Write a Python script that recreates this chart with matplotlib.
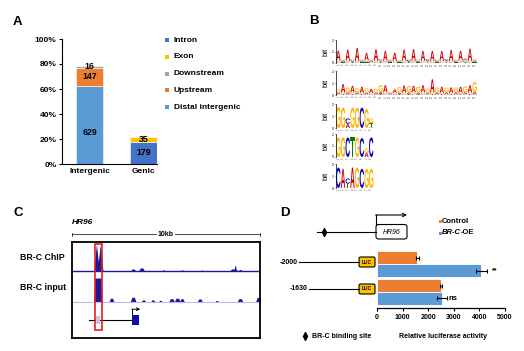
import numpy as np
import matplotlib
matplotlib.use('Agg')
import matplotlib.pyplot as plt
from matplotlib.patches import Rectangle, FancyBboxPatch, PathPatch
from matplotlib.textpath import TextPath
from matplotlib.font_manager import FontProperties
import matplotlib.transforms as mtransforms

plt.rcParams['font.family'] = ['Liberation Sans', 'DejaVu Sans']

# ---------------- data ----------------
# Panel A
a_categories = ['Intergenic', 'Genic']
intergenic_labels = ['Distal intergenic', 'Upstream', 'Downstream']
intergenic_counts = [629, 147, 16]
genic_labels = ['Intron', 'Exon']
genic_counts = [179, 35]
a_yticks = [0, 20, 40, 60, 80, 100]
a_legend_order = ['Intron', 'Exon', 'Downstream', 'Upstream', 'Distal intergenic']

# Panel B: sequence logos (bits per letter per position)
row1_A = [0.85, 0.10, 0.95, 0.08, 1.15, 0.10, 0.65, 0.12, 1.00, 0.08, 0.85, 0.10, 0.70, 0.06, 0.95,
          0.10, 1.00, 0.08, 0.85, 0.10, 0.85, 0.08, 0.85, 0.10, 0.95, 0.08, 0.85, 0.12, 1.05, 0.10]
row1_G = [0.12, 0.10, 0.10, 0.12, 0.08, 0.10, 0.12, 0.14, 0.10, 0.08, 0.10, 0.12, 0.10, 0.10, 0.12,
          0.10, 0.10, 0.12, 0.10, 0.08, 0.10, 0.12, 0.10, 0.08, 0.10, 0.10, 0.12, 0.10, 0.10, 0.12]
row1_C = [0.05, 0.08, 0.06, 0.10, 0.05, 0.08, 0.06, 0.06, 0.05, 0.10, 0.06, 0.08, 0.05, 0.06, 0.05,
          0.10, 0.06, 0.08, 0.06, 0.10, 0.05, 0.08, 0.06, 0.10, 0.05, 0.08, 0.06, 0.10, 0.05, 0.08]
row1_T = [0.04, 0.05, 0.04, 0.06, 0.04, 0.05, 0.05, 0.04, 0.04, 0.06, 0.04, 0.05, 0.04, 0.05, 0.04,
          0.06, 0.04, 0.05, 0.04, 0.06, 0.04, 0.05, 0.04, 0.06, 0.04, 0.05, 0.04, 0.06, 0.04, 0.05]

row2_A = [0.10, 0.70, 0.15, 0.55, 0.15, 0.50, 0.12, 0.35, 0.12, 0.20, 0.60, 0.08, 0.30, 0.15, 0.60,
          0.15, 0.55, 0.15, 0.60, 0.10, 1.10, 0.15, 0.50, 0.15, 0.45, 0.15, 0.50, 0.15, 0.60, 0.20]
row2_G = [0.30, 0.15, 0.40, 0.15, 0.35, 0.12, 0.35, 0.10, 0.30, 0.55, 0.15, 0.10, 0.10, 0.45, 0.12,
          0.55, 0.15, 0.50, 0.15, 0.35, 0.15, 0.40, 0.12, 0.40, 0.12, 0.40, 0.12, 0.50, 0.15, 0.80]
row2_C = [0.04, 0.03, 0.04, 0.03, 0.04, 0.03, 0.05, 0.04, 0.04, 0.03, 0.04, 0.05, 0.04, 0.03, 0.04,
          0.03, 0.04, 0.03, 0.04, 0.05, 0.03, 0.04, 0.03, 0.04, 0.03, 0.04, 0.03, 0.04, 0.03, 0.04]
row2_T = [0.03, 0.03, 0.03, 0.03, 0.03, 0.03, 0.03, 0.03, 0.03, 0.03, 0.03, 0.03, 0.03, 0.03, 0.03,
          0.03, 0.03, 0.03, 0.03, 0.03, 0.03, 0.03, 0.03, 0.03, 0.03, 0.03, 0.03, 0.03, 0.03, 0.03]

row3_A = [0.00, 0.00, 0.35, 0.00, 0.00, 0.00, 0.00, 0.05]
row3_C = [0.00, 0.00, 0.45, 0.00, 0.00, 1.70, 0.00, 0.00]
row3_G = [1.75, 1.70, 0.00, 1.70, 1.70, 0.00, 1.60, 0.40]
row3_T = [0.00, 0.00, 0.00, 0.00, 0.00, 0.00, 0.00, 0.35]

row4_A = [0.00, 0.00, 0.00, 0.00, 0.00, 0.00, 0.35, 0.00]
row4_C = [0.00, 0.00, 1.70, 0.00, 0.00, 1.65, 0.00, 1.70]
row4_G = [1.70, 1.70, 0.00, 0.00, 1.70, 0.00, 0.40, 0.00]
row4_T = [0.00, 0.00, 0.00, 1.70, 0.00, 0.00, 0.00, 0.00]

row5_A = [0.00, 1.60, 0.00, 1.70, 0.00, 0.00, 0.00, 0.00]
row5_C = [1.70, 0.00, 0.45, 0.00, 0.00, 1.60, 0.00, 0.00]
row5_G = [0.00, 0.00, 0.00, 0.00, 1.70, 0.00, 1.60, 1.60]
row5_T = [0.00, 0.00, 0.35, 0.00, 0.00, 0.00, 0.00, 0.00]

# Panel C: coverage peaks (position kb, relative height, half-width kb, flat-top fraction)
chip_pos = [1.30, 1.50, 1.40, 3.25, 3.70, 4.85, 5.85, 6.90, 8.60, 8.68, 8.95]
chip_height = [1.00, 0.97, 0.40, 0.08, 0.12, 0.04, 0.04, 0.03, 0.08, 0.20, 0.05]
chip_width = [0.15, 0.15, 0.15, 0.14, 0.16, 0.10, 0.10, 0.10, 0.22, 0.06, 0.12]
chip_flat = [0.05, 0.05, 0.40, 0.40, 0.40, 0.40, 0.40, 0.40, 0.50, 0.40, 0.40]
input_pos = [1.38, 2.10, 3.25, 3.80, 4.30, 4.70, 5.30, 5.60, 5.85, 6.80, 7.70, 8.94, 9.90]
input_height = [1.00, 0.16, 0.20, 0.09, 0.09, 0.07, 0.14, 0.16, 0.14, 0.13, 0.06, 0.14, 0.19]
input_width = [0.22, 0.14, 0.16, 0.12, 0.12, 0.10, 0.16, 0.16, 0.13, 0.14, 0.12, 0.16, 0.14]
input_flat = [0.75, 0.40, 0.40, 0.40, 0.40, 0.40, 0.40, 0.40, 0.40, 0.40, 0.40, 0.40, 0.40]
gene_span = [0.90, 3.20]
utr_box = [1.25, 1.50]
exon_box = [3.20, 3.55]
highlight_region = [1.22, 1.60]

# Panel D
d_constructs = ['-2000', '-1630']
d_control = [1570, 2500]
d_control_err = [60, 30]
d_oe = [4080, 2540]
d_oe_err = [220, 180]
d_sig = ['**', 'ns']
d_xticks = [0, 1000, 2000, 3000, 4000, 5000]

# ---------------- figure ----------------
W, H = 524, 351
fig = plt.figure(figsize=(W / 100, H / 100), dpi=100)


def px_axes(l, t, r, b):
    return fig.add_axes([l / W, 1 - b / H, (r - l) / W, (b - t) / H])


BOLD = dict(fontweight='bold')
colors_a = {'Intron': '#4472C4', 'Exon': '#FFC000', 'Downstream': '#A5A5A5',
            'Upstream': '#ED7D31', 'Distal intergenic': '#5B9BD5'}

# ---------- Panel A ----------
axA = px_axes(62, 39, 157, 164)
total = sum(intergenic_counts) + sum(genic_counts)
for ci, (labels, counts) in enumerate([(intergenic_labels, intergenic_counts),
                                        (genic_labels, genic_counts)]):
    bottom = 0.0
    for lab, c in zip(labels, counts):
        pct = c / total * 100
        axA.bar(ci, pct, bottom=bottom, width=0.5, color=colors_a[lab],
                edgecolor='white', linewidth=0.4)
        yl = bottom + pct * (0.4 if pct > 40 else 0.5)
        axA.text(ci, yl, str(c), ha='center', va='center', fontsize=6.3, **BOLD)
        bottom += pct
axA.set_xlim(-0.51, 1.25)
axA.set_ylim(0, 100)
axA.set_yticks(a_yticks)
axA.set_yticklabels([f'{v}%' for v in a_yticks], fontsize=6, fontweight='bold')
axA.set_xticks([0, 1])
axA.set_xticklabels(a_categories, fontsize=6, fontweight='bold')
axA.tick_params(axis='x', length=0, pad=3)
axA.tick_params(axis='y', length=2.5, width=0.8, pad=1.5)
for s in ['top', 'right']:
    axA.spines[s].set_visible(False)
for s in ['left', 'bottom']:
    axA.spines[s].set_linewidth(0.8)

# ---------- Panel B (logos) ----------
logo_colors = {'A': '#CC0000', 'C': '#0000CC', 'G': '#FFB300', 'T': '#008000'}
fp_logo = FontProperties(family='Liberation Sans', weight='bold')


def draw_letter(ax, ch, x, y, w, h, color):
    tp = TextPath((0, 0), ch, size=1, prop=fp_logo)
    bb = tp.get_extents()
    t = (mtransforms.Affine2D().translate(-bb.x0, -bb.y0)
         .scale(w / bb.width, h / bb.height).translate(x, y))
    ax.add_patch(PathPatch(t.transform_path(tp), fc=color, ec='none', lw=0))


def draw_logo(ax, A, C, G, T):
    n = len(A)
    for i in range(n):
        stack = sorted([('A', A[i]), ('C', C[i]), ('G', G[i]), ('T', T[i])], key=lambda p: p[1])
        y = 0.0
        for ch, h in stack:
            if h > 0:
                draw_letter(ax, ch, i + 0.53, y, 0.94, h, logo_colors[ch])
                y += h
    ax.set_xlim(0.5, n + 0.5)
    ax.set_ylim(0, 2)
    ax.set_yticks([0, 1, 2])
    ax.set_yticklabels(['0', '1', '2'], fontsize=2.5)
    ax.tick_params(axis='y', length=1, width=0.4, pad=0.5)
    ax.set_xticks(range(1, n + 1))
    ax.set_xticklabels([str(k) for k in range(1, n + 1)], fontsize=1.8, rotation=90, color='#555555')
    ax.tick_params(axis='x', length=0, pad=0.3)
    for s in ['top', 'right', 'bottom']:
        ax.spines[s].set_visible(False)
    ax.spines['left'].set_linewidth(0.5)
    ax.set_ylabel('bit', fontsize=5.5, labelpad=1.5)


logo_rows = [
    ((row1_A, row1_C, row1_G, row1_T), 40, 63),
    ((row2_A, row2_C, row2_G, row2_T), 71, 95),
    ((row3_A, row3_C, row3_G, row3_T), 104, 128),
    ((row4_A, row4_C, row4_G, row4_T), 134, 157),
    ((row5_A, row5_C, row5_G, row5_T), 164, 188),
]
pos_w = 4.7
for (vals, top, bot) in logo_rows:
    n = len(vals[0])
    ax = px_axes(336, top, 336 + n * pos_w, bot)
    draw_logo(ax, *vals)

# ---------- Panel C ----------
axC = px_axes(72, 242, 260, 338)
axC.set_xlim(0, 10)
axC.set_ylim(0, 1)
axC.set_xticks([])
axC.set_yticks([])
for s in axC.spines.values():
    s.set_linewidth(1.3)
xs = np.linspace(0, 10, 4001)


def profile(pos, hts, wds, flats):
    prof = np.zeros_like(xs)
    for c, h, w, f in zip(pos, hts, wds, flats):
        prof = np.maximum(prof, h * np.clip((w - np.abs(xs - c)) / (w * (1 - f)), 0, 1))
    return prof


track_col = '#1a1a9a'
chip_base, chip_scale = 0.698, 0.27
inp_base, inp_scale = 0.375, 0.25
axC.fill_between(xs, chip_base,
                 chip_base + chip_scale * profile(chip_pos, chip_height, chip_width, chip_flat),
                 color=track_col, lw=0)
axC.plot([0, 10], [chip_base, chip_base], color=track_col, lw=1.0)
axC.fill_between(xs, inp_base,
                 inp_base + inp_scale * profile(input_pos, input_height, input_width, input_flat),
                 color=track_col, lw=0)
axC.plot([0, 10], [inp_base, inp_base], color='#b8bce0', lw=0.8)
gene_y = 0.1875
axC.plot(gene_span, [gene_y, gene_y], color='black', lw=0.8)
axC.add_patch(Rectangle((utr_box[0], gene_y - 0.04), utr_box[1] - utr_box[0], 0.08,
                        fc='#c8c8e6', ec='none', zorder=3))
axC.add_patch(Rectangle((exon_box[0], gene_y - 0.05), exon_box[1] - exon_box[0], 0.1,
                        fc='#1010a0', ec='none', zorder=3))
axC.plot([exon_box[0], exon_box[0]], [gene_y + 0.05, 0.30], color='black', lw=0.7)
axC.annotate('', xy=(exon_box[1] + 0.08, 0.30), xytext=(exon_box[0] - 0.01, 0.30),
             arrowprops=dict(arrowstyle='->', lw=0.7, color='black', mutation_scale=5,
                             shrinkA=0, shrinkB=0))
axC.add_patch(Rectangle((highlight_region[0], 0.083), highlight_region[1] - highlight_region[0],
                        0.896, fill=False, ec='#e02020', lw=1.2, zorder=5))

# ---------- Panel D ----------
axD = px_axes(377, 249, 505, 308)
ypos = np.arange(len(d_constructs))
bh = 0.46
axD.barh(ypos - bh / 2, d_control, height=bh, color='#ED7D31', edgecolor='white', linewidth=0.6,
         xerr=d_control_err, error_kw=dict(ecolor='black', elinewidth=0.8, capsize=1.5, capthick=0.8))
axD.barh(ypos + bh / 2, d_oe, height=bh, color='#5B9BD5', edgecolor='white', linewidth=0.6,
         xerr=d_oe_err, error_kw=dict(ecolor='black', elinewidth=0.8, capsize=1.5, capthick=0.8))
for i, s in enumerate(d_sig):
    off = 180 if s == '**' else 60
    axD.text(d_oe[i] + d_oe_err[i] + off, ypos[i] + bh / 2, s, fontsize=5.5 if s == 'ns' else 5,
             va='center', ha='left', **BOLD)
axD.set_xlim(0, 5000)
axD.set_ylim(1.57, -0.54)
axD.set_yticks([])
axD.set_xticks(d_xticks)
axD.set_xticklabels([str(v) for v in d_xticks], fontsize=5, fontweight='bold')
axD.tick_params(axis='x', length=2.5, width=0.8, pad=1.5)
for s in ['top', 'right', 'left']:
    axD.spines[s].set_visible(False)
axD.spines['bottom'].set_linewidth(0.9)

# ---------- overlay (labels & diagrams) ----------
ov = fig.add_axes([0, 0, 1, 1], facecolor='none')
ov.set_xlim(0, W)
ov.set_ylim(H, 0)
ov.axis('off')

for lab, x, y in [('A', 13, 22), ('B', 309, 21), ('C', 13, 213), ('D', 280, 213)]:
    ov.text(x, y, lab, fontsize=9.5, ha='left', va='center', **BOLD)

# Panel A legend
for k, lab in enumerate(a_legend_order):
    y = 40 + k * 16.8
    ov.add_patch(Rectangle((165, y - 2), 4, 4, fc=colors_a[lab], ec='none'))
    ov.text(174, y, lab, fontsize=6, va='center', ha='left', **BOLD)

# Panel C labels
ov.text(72, 223, 'HR96', fontsize=6, style='italic', va='center', ha='left', **BOLD)
ov.plot([72, 260], [234, 234], color='black', lw=0.5)
ov.plot([72, 72], [232.5, 235.5], color='black', lw=0.5)
ov.plot([260, 260], [232.5, 235.5], color='black', lw=0.5)
ov.text(166, 234, '10kb', fontsize=5, ha='center', va='center',
        bbox=dict(fc='white', ec='none', pad=0.5), **BOLD)
ov.text(20, 258, 'BR-C ChIP', fontsize=6.3, va='center', ha='left', **BOLD)
ov.text(20, 288, 'BR-C input', fontsize=6.3, va='center', ha='left', **BOLD)

# Panel D legend
ov.add_patch(Rectangle((438.5, 220), 3, 3, fc='#ED7D31', ec='none'))
ov.text(442, 221.5, 'Control', fontsize=5.5, va='center', ha='left', **BOLD)
ov.add_patch(Rectangle((438.5, 231.5), 3, 3, fc='#5B9BD5', ec='none'))
t1 = ov.text(442, 233, 'BR-C', fontsize=5.5, va='center', ha='left', style='italic', **BOLD)
ov.annotate('-OE', xy=(1, 0.5), xycoords=t1, va='center', ha='left', fontsize=5.5, **BOLD)

# Panel D promoter diagram
ov.plot([317, 376], [232, 232], color='black', lw=0.8)
ov.plot([324, 324], [228, 236], color='black', lw=0.7)
ov.plot([324], [232], marker='d', markersize=4, color='black')
ov.add_patch(FancyBboxPatch((376, 224.5), 31, 14.5, boxstyle='round,pad=0,rounding_size=2.5',
                            fc='white', ec='black', lw=0.8))
ov.text(391.5, 232, 'HR96', fontsize=5, style='italic', ha='center', va='center')
ov.plot([376, 376], [224.5, 215], color='black', lw=0.8)
ov.annotate('', xy=(407, 215), xytext=(375.6, 215),
            arrowprops=dict(arrowstyle='->', lw=0.8, color='black', mutation_scale=6,
                            shrinkA=0, shrinkB=0))

construct_y = [262, 289]
construct_text_x = [298, 308]
for lab, y, tx in zip(d_constructs, construct_y, construct_text_x):
    ov.text(tx, y, lab, fontsize=5, ha='right', va='center', **BOLD)
    ov.plot([tx + 1, 359], [y, y], color='black', lw=0.8)
    ov.add_patch(FancyBboxPatch((359, y - 5), 16, 10, boxstyle='round,pad=0,rounding_size=1.5',
                                fc='#FFC000', ec='black', lw=0.8))
    ov.text(367, y, 'LUC', fontsize=3.5, ha='center', va='center', **BOLD)

# Panel D bottom labels
ov.plot([305, 305], [332, 340], color='black', lw=0.7)
ov.plot([305], [336], marker='d', markersize=4, color='black')
ov.text(312, 336, 'BR-C binding site', fontsize=5, va='center', ha='left', **BOLD)
ov.text(443, 336, 'Relative luciferase activity', fontsize=5, va='center', ha='center', **BOLD)

fig.savefig('out.png', dpi=100)
